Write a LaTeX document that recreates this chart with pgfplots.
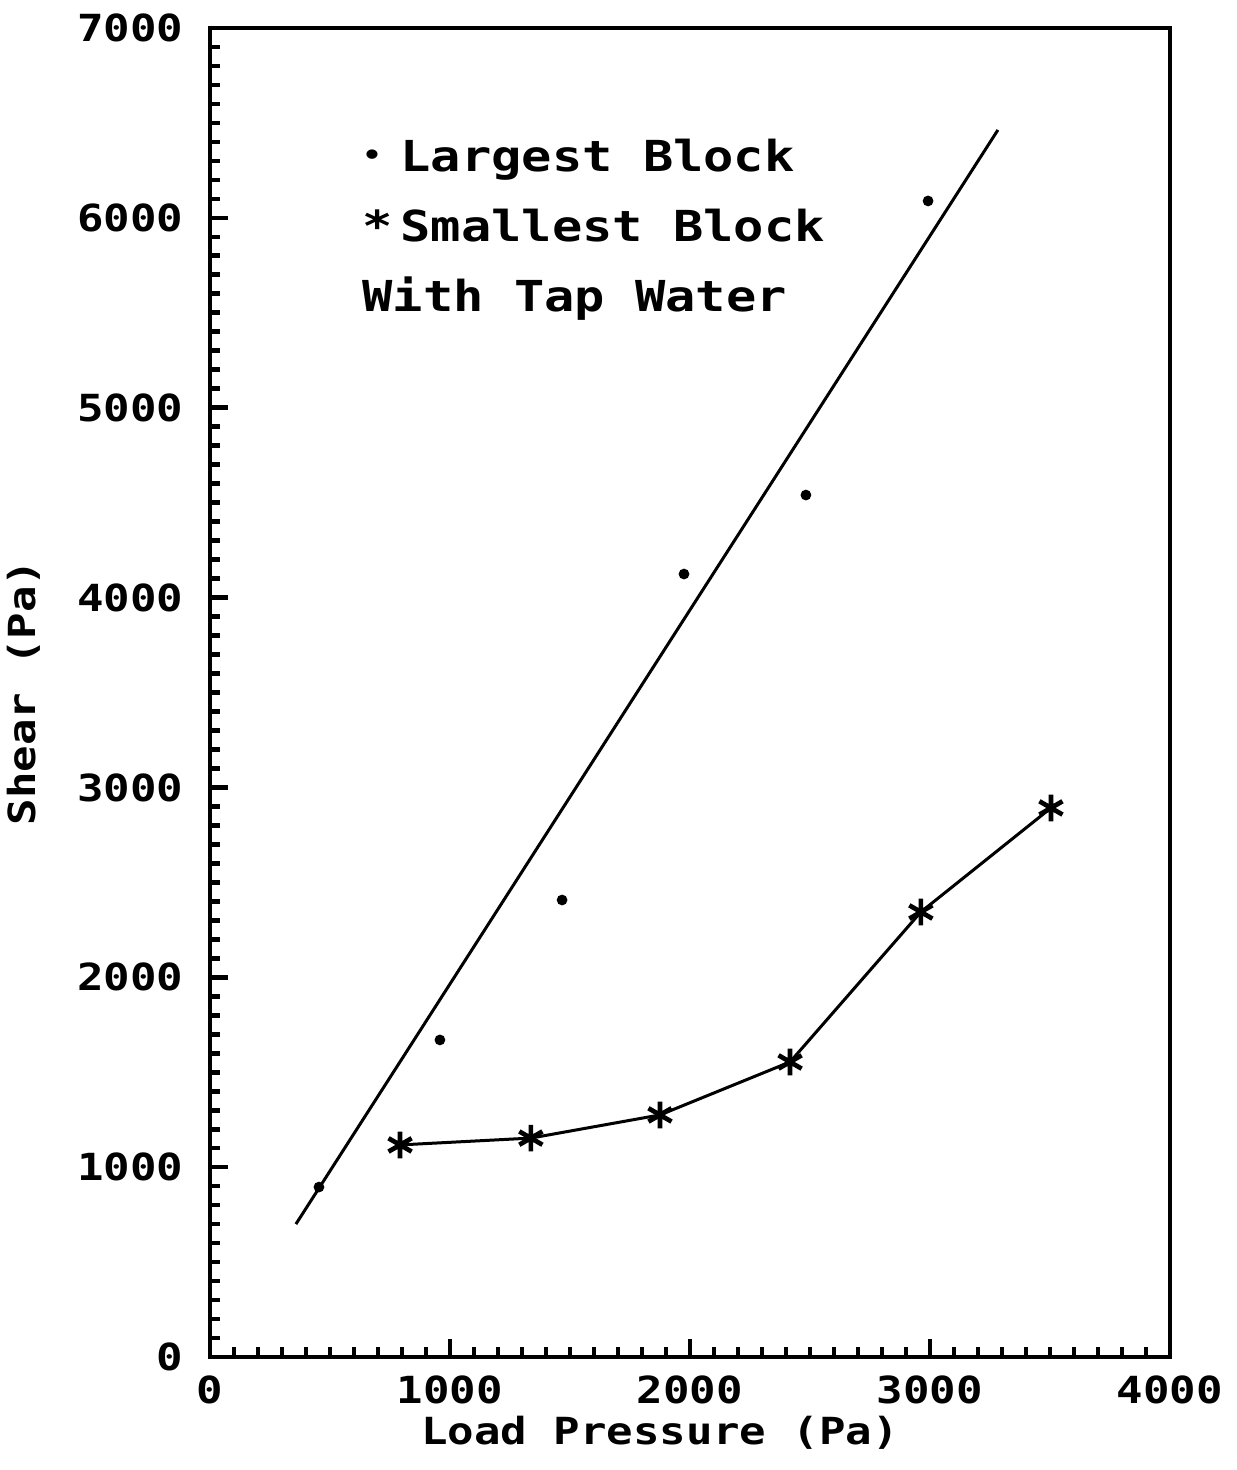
\documentclass[border=0pt]{standalone}
\usepackage{pgfplots}
\pgfplotsset{compat=1.18}
\usepackage{fontspec}
\newfontfamily\plotfont[FakeStretch=1.18]{DejaVu Sans Mono}
\newcommand{\tickfont}{\plotfont\bfseries\fontsize{11.2}{12}\selectfont}
\newcommand{\legfont}{\plotfont\bfseries\fontsize{12.8}{21}\selectfont}
\begin{document}
\begin{tikzpicture}
\begin{axis}[
  scale only axis,
  width=288pt, height=398.7pt,
  xmin=0, xmax=4000, ymin=0, ymax=7000,
  xtick={0,1000,2000,3000,4000},
  ytick={0,1000,2000,3000,4000,5000,6000,7000},
  minor x tick num=9, minor y tick num=9,
  tick pos=left, tick align=inside,
  major tick length=5.4pt, minor tick length=3pt,
  tick style={line width=1.4pt, black},
  minor tick style={line width=1.4pt, black},
  major tick style={line width=1.4pt, black},
  axis line style={line width=1.3pt},
  scaled ticks=false,
  /pgf/number format/assume math mode=true,
  /pgf/number format/1000 sep={},
  ticklabel style={font=\tickfont},
  xticklabel style={yshift=-2pt},
  yticklabel style={xshift=-4.5pt},
  xlabel={Load Pressure (Pa)},
  ylabel={Shear (Pa)},
  label style={font=\tickfont},
  xlabel style={xshift=-9pt, yshift=3pt},
  ylabel style={yshift=4pt},
  clip=false,
]
% Largest block: fitted line
\addplot[black, line width=0.9pt] coordinates {(358,700) (3283,6463)};
% Largest block: data
\addplot[only marks, mark=*, mark size=1.4pt, black] coordinates {
(454,895) (958,1670) (1467,2407) (1975,4124) (2483,4540) (2992,6089)};
% Smallest block
\addplot[black, line width=0.9pt, mark=asterisk, mark size=4pt,
  mark options={line width=1.4pt}] coordinates {
(792,1117) (1337,1153) (1875,1275) (2417,1554) (2962,2344) (3504,2892)};
\node[anchor=north west, inner sep=0pt, align=left, font=\legfont]
  at (axis cs:633,6420) {%
  \makebox[11.4pt][l]{\raisebox{2pt}{\fontsize{8}{8}\selectfont\textbullet}}Largest Block\\
  \makebox[11.4pt][l]{*}Smallest Block\\
  With Tap Water};
\end{axis}
\pgfresetboundingbox
\path ([shift={(-63pt,-33.9pt)}]current axis.south west) rectangle ([shift={(20.1pt,8.4pt)}]current axis.north east);
\end{tikzpicture}
\end{document}
